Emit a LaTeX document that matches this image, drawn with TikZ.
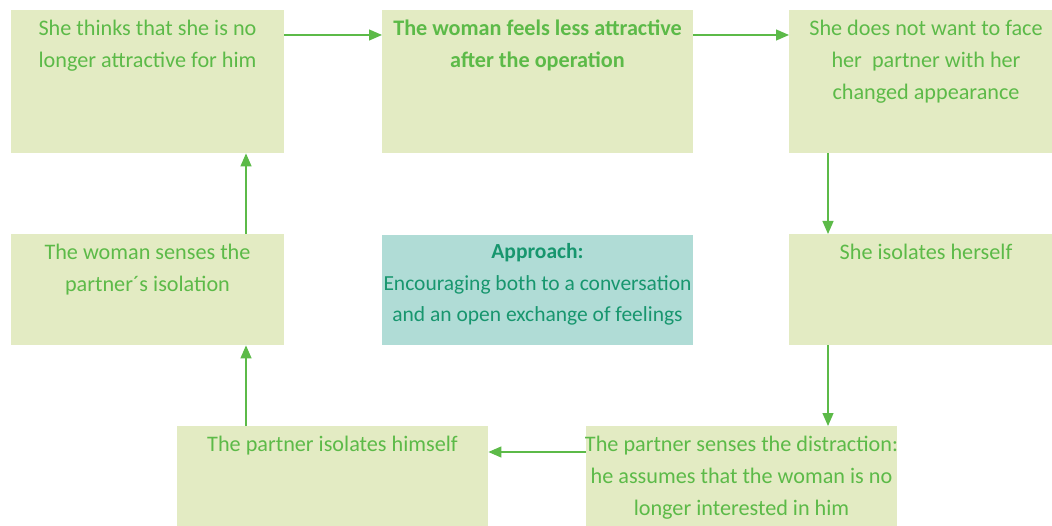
\documentclass[tikz,border=0pt]{standalone}
\usepackage{fontspec}
\setmainfont{Carlito}
\usetikzlibrary{arrows.meta}
\definecolor{boxfill}{HTML}{E3EBC3}
\definecolor{txtgreen}{HTML}{5CBA48}
\definecolor{appfill}{HTML}{B0DCD6}
\definecolor{apptxt}{HTML}{17966E}
\tikzset{
  box/.style={fill=boxfill, draw=none, inner sep=0pt, anchor=north west},
  appbox/.style={fill=appfill, draw=none, inner sep=0pt, anchor=north west},
  txt/.style={text=txtgreen, align=center, inner sep=0pt, anchor=north, font=\fontsize{22.2}{32}\selectfont},
  apptext/.style={text=apptxt, align=center, inner sep=0pt, anchor=north, font=\fontsize{21.5}{31.5}\selectfont},
  flow/.style={draw=txtgreen, line width=1.3pt, -{Triangle[length=13pt,width=11pt]}}
}
\begin{document}
\begin{tikzpicture}[x=1pt,y=-1pt]
\useasboundingbox (0,0) rectangle (1052,526);
% boxes
\node[box, minimum width=273pt, minimum height=143pt] (b1) at (11,10) {};
\node[box, minimum width=311pt, minimum height=143pt] (b2) at (382,10) {};
\node[box, minimum width=263pt, minimum height=143pt] (b3) at (789,10) {};
\node[box, minimum width=273pt, minimum height=111pt] (b4) at (11,234) {};
\node[appbox, minimum width=311pt, minimum height=110pt] (ap) at (382,235) {};
\node[box, minimum width=263pt, minimum height=111pt] (b5) at (789,234) {};
\node[box, minimum width=311pt, minimum height=100pt] (b6) at (177,426) {};
\node[box, minimum width=311pt, minimum height=100pt] (b7) at (586,426) {};
% texts
\node[txt] (t1) at (147.5,19.5) {She thinks that she is no\\longer attractive for him};
\node[txt, font=\fontsize{22.2}{32}\selectfont\bfseries] (t2) at (537.5,19.5) {The woman feels less attractive\\after the operation};
\node[txt] (t3) at (926,19.5) {She does not want to face\\her\ \ partner with her\\changed appearance};
\node[txt] (t4) at (147.5,243.5) {The woman senses the\\partner´s isolation};
\node[apptext] (ta) at (537.5,243.5) {\textbf{Approach:}\\Encouraging both to a conversation\\and an open exchange of feelings};
\node[txt] (t5) at (926,243.5) {She isolates herself};
\node[txt] (t6) at (332.5,435.5) {The partner isolates himself};
\node[txt] (t7) at (741.5,435.5) {The partner senses the distraction:\\he assumes that the woman is no\\longer interested in him};
% connectors
\coordinate (a1s) at (284,35);
\draw[flow] (b1.east |- a1s) -- (b2.west |- a1s);
\draw[flow] (b2.east |- a1s) -- (b3.west |- a1s);
\coordinate (rx) at (828,0);
\draw[flow] (b3.south -| rx) -- (b5.north -| rx);
\draw[flow] (b5.south -| rx) -- (b7.north -| rx);
\coordinate (by) at (0,452);
\draw[flow] (b7.west |- by) -- (b6.east |- by);
\coordinate (lx) at (246,0);
\draw[flow] (b6.north -| lx) -- (b4.south -| lx);
\draw[flow] (b4.north -| lx) -- (b1.south -| lx);
\end{tikzpicture}
\end{document}
